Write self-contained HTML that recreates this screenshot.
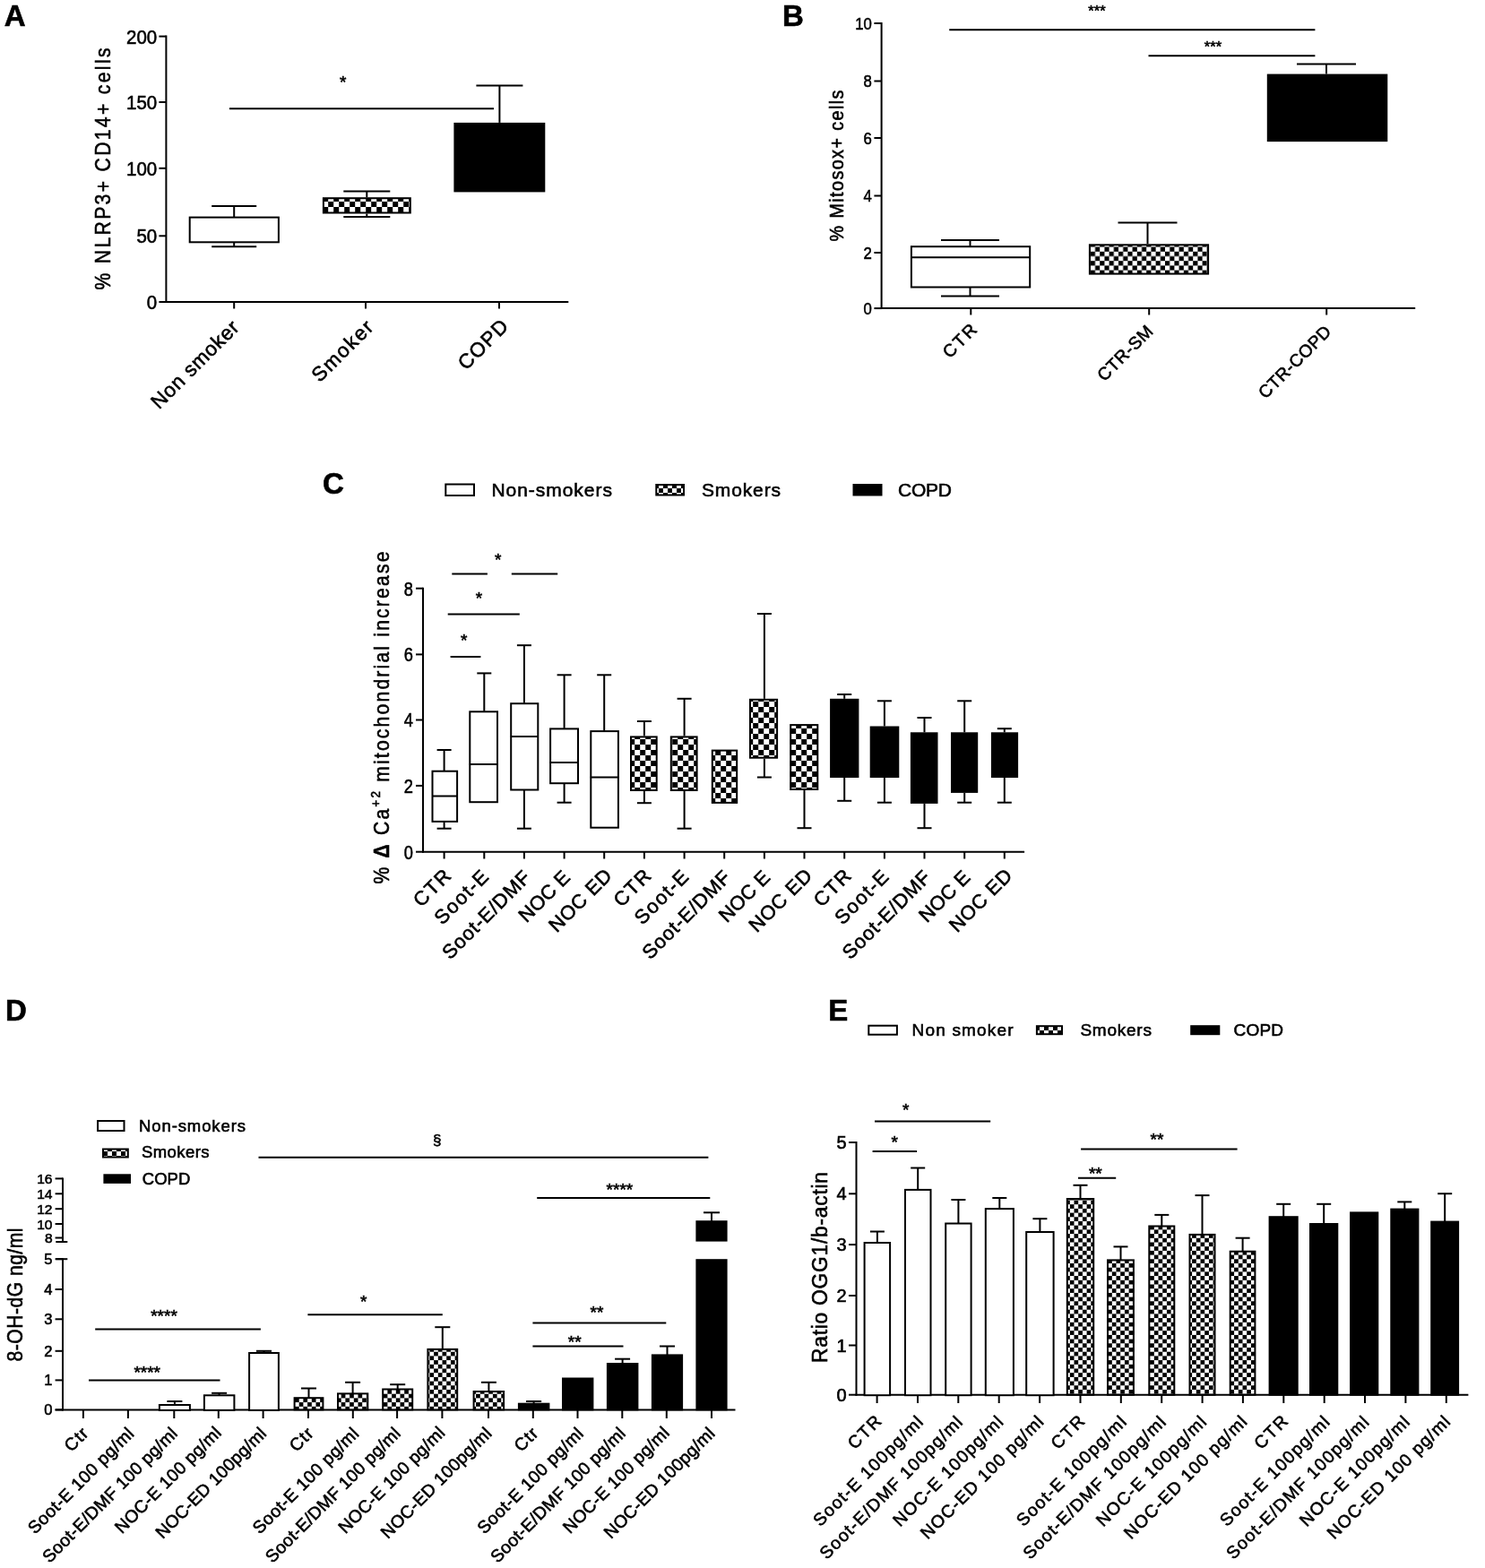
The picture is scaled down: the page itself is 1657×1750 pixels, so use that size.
<!DOCTYPE html>
<html lang="en">
<head>
<meta charset="utf-8">
<title>Figure</title>
<style>
html,body{margin:0;padding:0;background:#fff;}
body{width:1657px;height:1750px;overflow:hidden;}
svg{display:block;}
text{font-family:'Liberation Sans', sans-serif;fill:#000;stroke:#000;stroke-width:0.6px;}
</style>
</head>
<body>
<svg width="1657" height="1750" viewBox="0 0 1657 1750">
<defs>
<pattern id="chk6" x="0.2" y="3" width="12" height="12" patternUnits="userSpaceOnUse"><rect width="12" height="12" fill="#fff"/><rect width="6" height="6" fill="#000"/><rect x="6" y="6" width="6" height="6" fill="#000"/></pattern>
<pattern id="chk5" x="0" y="0" width="10.4" height="10.4" patternUnits="userSpaceOnUse"><rect width="10.4" height="10.4" fill="#fff"/><rect width="5.2" height="5.2" fill="#000"/><rect x="5.2" y="5.2" width="5.2" height="5.2" fill="#000"/></pattern>
<pattern id="chk47" x="0" y="0" width="9.4" height="9.4" patternUnits="userSpaceOnUse"><rect width="9.4" height="9.4" fill="#fff"/><rect width="4.7" height="4.7" fill="#000"/><rect x="4.7" y="4.7" width="4.7" height="4.7" fill="#000"/></pattern>
<pattern id="chkL" x="0" y="0" width="10" height="10" patternUnits="userSpaceOnUse"><rect width="10" height="10" fill="#fff"/><rect width="5" height="5" fill="#000"/><rect x="5" y="5" width="5" height="5" fill="#000"/></pattern>
</defs>
<rect x="0" y="0" width="1657" height="1750" fill="#fff"/>
<text x="4.7" y="28.6" font-size="33" text-anchor="start" font-weight="bold">A</text>
<text x="873.0" y="28.6" font-size="33" text-anchor="start" font-weight="bold">B</text>
<text x="360.1" y="550.6" font-size="33" text-anchor="start" font-weight="bold">C</text>
<text x="6.0" y="1138.5" font-size="33" text-anchor="start" font-weight="bold">D</text>
<text x="924.2" y="1138.5" font-size="33" text-anchor="start" font-weight="bold">E</text>
<line x1="185.4" y1="39.6" x2="185.4" y2="338.0" stroke="#000" stroke-width="2" stroke-linecap="butt"/>
<line x1="184.4" y1="337.0" x2="634.3" y2="337.0" stroke="#000" stroke-width="2" stroke-linecap="butt"/>
<line x1="177.4" y1="40.6" x2="185.4" y2="40.6" stroke="#000" stroke-width="2" stroke-linecap="butt"/>
<text x="0" y="0" font-size="22" text-anchor="end" transform="translate(175.2 48.5) rotate(0) scale(0.93 1)">200</text>
<line x1="177.4" y1="114.0" x2="185.4" y2="114.0" stroke="#000" stroke-width="2" stroke-linecap="butt"/>
<text x="0" y="0" font-size="22" text-anchor="end" transform="translate(175.2 121.9) rotate(0) scale(0.93 1)">150</text>
<line x1="177.4" y1="187.8" x2="185.4" y2="187.8" stroke="#000" stroke-width="2" stroke-linecap="butt"/>
<text x="0" y="0" font-size="22" text-anchor="end" transform="translate(175.2 195.7) rotate(0) scale(0.93 1)">100</text>
<line x1="177.4" y1="263.3" x2="185.4" y2="263.3" stroke="#000" stroke-width="2" stroke-linecap="butt"/>
<text x="0" y="0" font-size="22" text-anchor="end" transform="translate(175.2 271.2) rotate(0) scale(0.93 1)">50</text>
<line x1="177.4" y1="337.0" x2="185.4" y2="337.0" stroke="#000" stroke-width="2" stroke-linecap="butt"/>
<text x="0" y="0" font-size="22" text-anchor="end" transform="translate(175.2 344.9) rotate(0) scale(0.93 1)">0</text>
<line x1="261.2" y1="337.0" x2="261.2" y2="344.5" stroke="#000" stroke-width="2" stroke-linecap="butt"/>
<line x1="408.0" y1="337.0" x2="408.0" y2="344.5" stroke="#000" stroke-width="2" stroke-linecap="butt"/>
<line x1="557.0" y1="337.0" x2="557.0" y2="344.5" stroke="#000" stroke-width="2" stroke-linecap="butt"/>
<text x="0" y="0" font-size="23.5" text-anchor="middle" transform="translate(123.0 188.5) rotate(-90) scale(0.9 1)" textLength="300.0" lengthAdjust="spacing">% NLRP3+ CD14+ cells</text>
<line x1="261.2" y1="230.0" x2="261.2" y2="242.1" stroke="#000" stroke-width="2" stroke-linecap="butt"/>
<line x1="236.2" y1="230.0" x2="286.2" y2="230.0" stroke="#000" stroke-width="2" stroke-linecap="butt"/>
<line x1="261.2" y1="270.8" x2="261.2" y2="275.2" stroke="#000" stroke-width="2" stroke-linecap="butt"/>
<line x1="236.2" y1="275.2" x2="286.2" y2="275.2" stroke="#000" stroke-width="2" stroke-linecap="butt"/>
<rect x="211.7" y="242.6" width="99.2" height="27.7" fill="#fff" stroke="#000" stroke-width="2"/>
<line x1="409.3" y1="213.6" x2="409.3" y2="220.2" stroke="#000" stroke-width="2" stroke-linecap="butt"/>
<line x1="383.3" y1="213.6" x2="435.3" y2="213.6" stroke="#000" stroke-width="2" stroke-linecap="butt"/>
<line x1="409.3" y1="238.5" x2="409.3" y2="241.9" stroke="#000" stroke-width="2" stroke-linecap="butt"/>
<line x1="383.3" y1="241.9" x2="435.3" y2="241.9" stroke="#000" stroke-width="2" stroke-linecap="butt"/>
<rect x="360.9" y="221.2" width="96.9" height="16.3" fill="url(#chk6)" stroke="#000" stroke-width="2"/>
<line x1="557.4" y1="95.4" x2="557.4" y2="136.9" stroke="#000" stroke-width="2" stroke-linecap="butt"/>
<line x1="531.4" y1="95.4" x2="583.4" y2="95.4" stroke="#000" stroke-width="2" stroke-linecap="butt"/>
<rect x="507.4" y="137.9" width="99.9" height="75.5" fill="#000" stroke="#000" stroke-width="2"/>
<line x1="255.9" y1="121.2" x2="551.0" y2="121.2" stroke="#000" stroke-width="2" stroke-linecap="butt"/>
<text x="382.6" y="97.9" font-size="19" text-anchor="middle">*</text>
<text x="268.0" y="367.0" font-size="22.5" text-anchor="end" transform="rotate(-45 268.0 367.0)" textLength="127.8" lengthAdjust="spacing">Non smoker</text>
<text x="417.8" y="366.6" font-size="22.5" text-anchor="end" transform="rotate(-45 417.8 366.6)" textLength="86.3" lengthAdjust="spacing">Smoker</text>
<text x="568.5" y="365.5" font-size="22.5" text-anchor="end" transform="rotate(-45 568.5 365.5)" textLength="68.6" lengthAdjust="spacing">COPD</text>
<line x1="983.6" y1="25.0" x2="983.6" y2="345.1" stroke="#000" stroke-width="2" stroke-linecap="butt"/>
<line x1="982.6" y1="344.1" x2="1579.2" y2="344.1" stroke="#000" stroke-width="2" stroke-linecap="butt"/>
<line x1="975.4" y1="26.0" x2="983.6" y2="26.0" stroke="#000" stroke-width="2" stroke-linecap="butt"/>
<text x="0" y="0" font-size="19" text-anchor="end" transform="translate(972.8 32.8) rotate(0) scale(0.88 1)">10</text>
<line x1="975.4" y1="90.5" x2="983.6" y2="90.5" stroke="#000" stroke-width="2" stroke-linecap="butt"/>
<text x="0" y="0" font-size="19" text-anchor="end" transform="translate(972.8 97.3) rotate(0) scale(0.88 1)">8</text>
<line x1="975.4" y1="154.0" x2="983.6" y2="154.0" stroke="#000" stroke-width="2" stroke-linecap="butt"/>
<text x="0" y="0" font-size="19" text-anchor="end" transform="translate(972.8 160.8) rotate(0) scale(0.88 1)">6</text>
<line x1="975.4" y1="218.5" x2="983.6" y2="218.5" stroke="#000" stroke-width="2" stroke-linecap="butt"/>
<text x="0" y="0" font-size="19" text-anchor="end" transform="translate(972.8 225.3) rotate(0) scale(0.88 1)">4</text>
<line x1="975.4" y1="282.0" x2="983.6" y2="282.0" stroke="#000" stroke-width="2" stroke-linecap="butt"/>
<text x="0" y="0" font-size="19" text-anchor="end" transform="translate(972.8 288.8) rotate(0) scale(0.88 1)">2</text>
<line x1="975.4" y1="344.1" x2="983.6" y2="344.1" stroke="#000" stroke-width="2" stroke-linecap="butt"/>
<text x="0" y="0" font-size="19" text-anchor="end" transform="translate(972.8 350.9) rotate(0) scale(0.88 1)">0</text>
<line x1="1083.3" y1="344.1" x2="1083.3" y2="351.5" stroke="#000" stroke-width="2" stroke-linecap="butt"/>
<line x1="1282.2" y1="344.1" x2="1282.2" y2="351.5" stroke="#000" stroke-width="2" stroke-linecap="butt"/>
<line x1="1480.2" y1="344.1" x2="1480.2" y2="351.5" stroke="#000" stroke-width="2" stroke-linecap="butt"/>
<text x="0" y="0" font-size="21.5" text-anchor="middle" transform="translate(941.0 185.0) rotate(-90) scale(0.92 1)" textLength="183.7" lengthAdjust="spacing">% Mitosox+ cells</text>
<line x1="1082.5" y1="268.0" x2="1082.5" y2="274.7" stroke="#000" stroke-width="2" stroke-linecap="butt"/>
<line x1="1050.0" y1="268.0" x2="1115.0" y2="268.0" stroke="#000" stroke-width="2" stroke-linecap="butt"/>
<line x1="1082.5" y1="321.0" x2="1082.5" y2="330.5" stroke="#000" stroke-width="2" stroke-linecap="butt"/>
<line x1="1050.0" y1="330.5" x2="1115.0" y2="330.5" stroke="#000" stroke-width="2" stroke-linecap="butt"/>
<rect x="1016.9" y="275.2" width="132.3" height="45.3" fill="#fff" stroke="#000" stroke-width="2"/>
<line x1="1016.4" y1="287.2" x2="1149.7" y2="287.2" stroke="#000" stroke-width="2" stroke-linecap="butt"/>
<line x1="1280.5" y1="248.6" x2="1280.5" y2="272.3" stroke="#000" stroke-width="2" stroke-linecap="butt"/>
<line x1="1247.5" y1="248.6" x2="1313.5" y2="248.6" stroke="#000" stroke-width="2" stroke-linecap="butt"/>
<rect x="1215.9" y="273.3" width="132.2" height="32.3" fill="url(#chk5)" stroke="#000" stroke-width="2"/>
<line x1="1480.0" y1="71.5" x2="1480.0" y2="82.6" stroke="#000" stroke-width="2" stroke-linecap="butt"/>
<line x1="1447.0" y1="71.5" x2="1513.0" y2="71.5" stroke="#000" stroke-width="2" stroke-linecap="butt"/>
<rect x="1414.8" y="83.6" width="132.5" height="73.5" fill="#000" stroke="#000" stroke-width="2"/>
<line x1="1059.2" y1="33.3" x2="1467.4" y2="33.3" stroke="#000" stroke-width="2" stroke-linecap="butt"/>
<line x1="1281.5" y1="62.3" x2="1467.4" y2="62.3" stroke="#000" stroke-width="2" stroke-linecap="butt"/>
<text x="1224.0" y="17.8" font-size="16.5" text-anchor="middle">***</text>
<text x="1353.5" y="57.6" font-size="16.5" text-anchor="middle">***</text>
<text x="1091.2" y="369.3" font-size="19.5" text-anchor="end" transform="rotate(-45 1091.2 369.3)" textLength="44.5" lengthAdjust="spacing">CTR</text>
<text x="1287.8" y="370.9" font-size="19.5" text-anchor="end" transform="rotate(-45 1287.8 370.9)" textLength="78.7" lengthAdjust="spacing">CTR-SM</text>
<text x="1486.6" y="371.4" font-size="19.5" text-anchor="end" transform="rotate(-45 1486.6 371.4)" textLength="105.5" lengthAdjust="spacing">CTR-COPD</text>
<line x1="472.0" y1="655.7" x2="472.0" y2="951.7" stroke="#000" stroke-width="2" stroke-linecap="butt"/>
<line x1="471.0" y1="950.7" x2="1143.1" y2="950.7" stroke="#000" stroke-width="2" stroke-linecap="butt"/>
<line x1="464.0" y1="656.7" x2="472.0" y2="656.7" stroke="#000" stroke-width="2" stroke-linecap="butt"/>
<text x="0" y="0" font-size="21.5" text-anchor="end" transform="translate(461.0 664.5) rotate(0) scale(0.85 1)">8</text>
<line x1="464.0" y1="730.4" x2="472.0" y2="730.4" stroke="#000" stroke-width="2" stroke-linecap="butt"/>
<text x="0" y="0" font-size="21.5" text-anchor="end" transform="translate(461.0 738.2) rotate(0) scale(0.85 1)">6</text>
<line x1="464.0" y1="803.5" x2="472.0" y2="803.5" stroke="#000" stroke-width="2" stroke-linecap="butt"/>
<text x="0" y="0" font-size="21.5" text-anchor="end" transform="translate(461.0 811.3) rotate(0) scale(0.85 1)">4</text>
<line x1="464.0" y1="876.9" x2="472.0" y2="876.9" stroke="#000" stroke-width="2" stroke-linecap="butt"/>
<text x="0" y="0" font-size="21.5" text-anchor="end" transform="translate(461.0 884.7) rotate(0) scale(0.85 1)">2</text>
<line x1="464.0" y1="950.7" x2="472.0" y2="950.7" stroke="#000" stroke-width="2" stroke-linecap="butt"/>
<text x="0" y="0" font-size="21.5" text-anchor="end" transform="translate(461.0 958.5) rotate(0) scale(0.85 1)">0</text>
<line x1="495.6" y1="950.7" x2="495.6" y2="958.5" stroke="#000" stroke-width="2" stroke-linecap="butt"/>
<line x1="540.3" y1="950.7" x2="540.3" y2="958.5" stroke="#000" stroke-width="2" stroke-linecap="butt"/>
<line x1="584.9" y1="950.7" x2="584.9" y2="958.5" stroke="#000" stroke-width="2" stroke-linecap="butt"/>
<line x1="629.6" y1="950.7" x2="629.6" y2="958.5" stroke="#000" stroke-width="2" stroke-linecap="butt"/>
<line x1="674.2" y1="950.7" x2="674.2" y2="958.5" stroke="#000" stroke-width="2" stroke-linecap="butt"/>
<line x1="718.9" y1="950.7" x2="718.9" y2="958.5" stroke="#000" stroke-width="2" stroke-linecap="butt"/>
<line x1="763.6" y1="950.7" x2="763.6" y2="958.5" stroke="#000" stroke-width="2" stroke-linecap="butt"/>
<line x1="808.2" y1="950.7" x2="808.2" y2="958.5" stroke="#000" stroke-width="2" stroke-linecap="butt"/>
<line x1="852.9" y1="950.7" x2="852.9" y2="958.5" stroke="#000" stroke-width="2" stroke-linecap="butt"/>
<line x1="897.5" y1="950.7" x2="897.5" y2="958.5" stroke="#000" stroke-width="2" stroke-linecap="butt"/>
<line x1="942.2" y1="950.7" x2="942.2" y2="958.5" stroke="#000" stroke-width="2" stroke-linecap="butt"/>
<line x1="986.9" y1="950.7" x2="986.9" y2="958.5" stroke="#000" stroke-width="2" stroke-linecap="butt"/>
<line x1="1031.5" y1="950.7" x2="1031.5" y2="958.5" stroke="#000" stroke-width="2" stroke-linecap="butt"/>
<line x1="1076.2" y1="950.7" x2="1076.2" y2="958.5" stroke="#000" stroke-width="2" stroke-linecap="butt"/>
<line x1="1120.8" y1="950.7" x2="1120.8" y2="958.5" stroke="#000" stroke-width="2" stroke-linecap="butt"/>
<text x="0" y="0" font-size="23.5" text-anchor="middle" transform="translate(434.0 801.0) rotate(-90) scale(0.9 1)" textLength="412.2" lengthAdjust="spacing">% <tspan font-weight="bold">Δ</tspan> Ca<tspan font-size="15" dy="-10.5">+2</tspan><tspan dy="10.5"> mitochondrial increase</tspan></text>
<rect x="497.3" y="540.5" width="31.7" height="12.5" fill="#fff" stroke="#000" stroke-width="2"/>
<text x="548.4" y="554.0" font-size="21" text-anchor="start" textLength="134.5" lengthAdjust="spacing">Non-smokers</text>
<rect x="732.3" y="541.0" width="30.7" height="11.5" fill="url(#chkL)" stroke="#000" stroke-width="2"/>
<text x="783.0" y="554.0" font-size="21" text-anchor="start" textLength="88.0" lengthAdjust="spacing">Smokers</text>
<rect x="952.5" y="541.0" width="31.0" height="11.5" fill="#000" stroke="#000" stroke-width="2"/>
<text x="1002.0" y="554.0" font-size="21" text-anchor="start" textLength="60.0" lengthAdjust="spacing">COPD</text>
<line x1="495.6" y1="837.0" x2="495.6" y2="860.2" stroke="#000" stroke-width="2" stroke-linecap="butt"/>
<line x1="487.6" y1="837.0" x2="503.6" y2="837.0" stroke="#000" stroke-width="2" stroke-linecap="butt"/>
<line x1="495.6" y1="917.4" x2="495.6" y2="924.7" stroke="#000" stroke-width="2" stroke-linecap="butt"/>
<line x1="487.6" y1="924.7" x2="503.6" y2="924.7" stroke="#000" stroke-width="2" stroke-linecap="butt"/>
<rect x="482.5" y="860.7" width="27.6" height="56.2" fill="#fff" stroke="#000" stroke-width="2"/>
<line x1="482.0" y1="888.5" x2="510.6" y2="888.5" stroke="#000" stroke-width="2" stroke-linecap="butt"/>
<line x1="540.3" y1="751.4" x2="540.3" y2="793.8" stroke="#000" stroke-width="2" stroke-linecap="butt"/>
<line x1="532.3" y1="751.4" x2="548.3" y2="751.4" stroke="#000" stroke-width="2" stroke-linecap="butt"/>
<rect x="524.3" y="794.3" width="30.7" height="100.9" fill="#fff" stroke="#000" stroke-width="2"/>
<line x1="523.8" y1="853.0" x2="555.5" y2="853.0" stroke="#000" stroke-width="2" stroke-linecap="butt"/>
<line x1="584.9" y1="720.2" x2="584.9" y2="784.7" stroke="#000" stroke-width="2" stroke-linecap="butt"/>
<line x1="576.9" y1="720.2" x2="592.9" y2="720.2" stroke="#000" stroke-width="2" stroke-linecap="butt"/>
<line x1="584.9" y1="882.0" x2="584.9" y2="924.7" stroke="#000" stroke-width="2" stroke-linecap="butt"/>
<line x1="576.9" y1="924.7" x2="592.9" y2="924.7" stroke="#000" stroke-width="2" stroke-linecap="butt"/>
<rect x="570.2" y="785.2" width="30.1" height="96.3" fill="#fff" stroke="#000" stroke-width="2"/>
<line x1="569.7" y1="822.0" x2="600.8" y2="822.0" stroke="#000" stroke-width="2" stroke-linecap="butt"/>
<line x1="629.6" y1="753.3" x2="629.6" y2="812.9" stroke="#000" stroke-width="2" stroke-linecap="butt"/>
<line x1="621.6" y1="753.3" x2="637.6" y2="753.3" stroke="#000" stroke-width="2" stroke-linecap="butt"/>
<line x1="629.6" y1="874.7" x2="629.6" y2="895.7" stroke="#000" stroke-width="2" stroke-linecap="butt"/>
<line x1="621.6" y1="895.7" x2="637.6" y2="895.7" stroke="#000" stroke-width="2" stroke-linecap="butt"/>
<rect x="614.1" y="813.4" width="30.9" height="60.8" fill="#fff" stroke="#000" stroke-width="2"/>
<line x1="613.6" y1="851.0" x2="645.5" y2="851.0" stroke="#000" stroke-width="2" stroke-linecap="butt"/>
<line x1="674.2" y1="753.3" x2="674.2" y2="815.6" stroke="#000" stroke-width="2" stroke-linecap="butt"/>
<line x1="666.2" y1="753.3" x2="682.2" y2="753.3" stroke="#000" stroke-width="2" stroke-linecap="butt"/>
<rect x="659.3" y="816.1" width="30.6" height="107.6" fill="#fff" stroke="#000" stroke-width="2"/>
<line x1="658.8" y1="867.5" x2="690.4" y2="867.5" stroke="#000" stroke-width="2" stroke-linecap="butt"/>
<line x1="718.9" y1="805.0" x2="718.9" y2="821.4" stroke="#000" stroke-width="2" stroke-linecap="butt"/>
<line x1="710.9" y1="805.0" x2="726.9" y2="805.0" stroke="#000" stroke-width="2" stroke-linecap="butt"/>
<line x1="718.9" y1="883.0" x2="718.9" y2="896.2" stroke="#000" stroke-width="2" stroke-linecap="butt"/>
<line x1="710.9" y1="896.2" x2="726.9" y2="896.2" stroke="#000" stroke-width="2" stroke-linecap="butt"/>
<rect x="704.0" y="822.4" width="28.7" height="59.6" fill="url(#chk6)" stroke="#000" stroke-width="2"/>
<line x1="763.6" y1="779.8" x2="763.6" y2="821.4" stroke="#000" stroke-width="2" stroke-linecap="butt"/>
<line x1="755.6" y1="779.8" x2="771.6" y2="779.8" stroke="#000" stroke-width="2" stroke-linecap="butt"/>
<line x1="763.6" y1="883.0" x2="763.6" y2="924.7" stroke="#000" stroke-width="2" stroke-linecap="butt"/>
<line x1="755.6" y1="924.7" x2="771.6" y2="924.7" stroke="#000" stroke-width="2" stroke-linecap="butt"/>
<rect x="748.8" y="822.4" width="28.8" height="59.6" fill="url(#chk6)" stroke="#000" stroke-width="2"/>
<rect x="794.8" y="837.6" width="27.4" height="58.3" fill="url(#chk6)" stroke="#000" stroke-width="2"/>
<line x1="852.9" y1="685.0" x2="852.9" y2="779.8" stroke="#000" stroke-width="2" stroke-linecap="butt"/>
<line x1="844.9" y1="685.0" x2="860.9" y2="685.0" stroke="#000" stroke-width="2" stroke-linecap="butt"/>
<line x1="852.9" y1="846.7" x2="852.9" y2="867.5" stroke="#000" stroke-width="2" stroke-linecap="butt"/>
<line x1="844.9" y1="867.5" x2="860.9" y2="867.5" stroke="#000" stroke-width="2" stroke-linecap="butt"/>
<rect x="837.0" y="780.8" width="30.1" height="64.9" fill="url(#chk6)" stroke="#000" stroke-width="2"/>
<line x1="897.5" y1="882.0" x2="897.5" y2="924.2" stroke="#000" stroke-width="2" stroke-linecap="butt"/>
<line x1="889.5" y1="924.2" x2="905.5" y2="924.2" stroke="#000" stroke-width="2" stroke-linecap="butt"/>
<rect x="882.2" y="809.1" width="30.1" height="71.9" fill="url(#chk6)" stroke="#000" stroke-width="2"/>
<line x1="942.2" y1="775.0" x2="942.2" y2="779.8" stroke="#000" stroke-width="2" stroke-linecap="butt"/>
<line x1="934.2" y1="775.0" x2="950.2" y2="775.0" stroke="#000" stroke-width="2" stroke-linecap="butt"/>
<line x1="942.2" y1="868.0" x2="942.2" y2="893.8" stroke="#000" stroke-width="2" stroke-linecap="butt"/>
<line x1="934.2" y1="893.8" x2="950.2" y2="893.8" stroke="#000" stroke-width="2" stroke-linecap="butt"/>
<rect x="927.1" y="780.8" width="30.3" height="86.2" fill="#000" stroke="#000" stroke-width="2"/>
<line x1="986.9" y1="782.3" x2="986.9" y2="810.5" stroke="#000" stroke-width="2" stroke-linecap="butt"/>
<line x1="978.9" y1="782.3" x2="994.9" y2="782.3" stroke="#000" stroke-width="2" stroke-linecap="butt"/>
<line x1="986.9" y1="868.0" x2="986.9" y2="895.7" stroke="#000" stroke-width="2" stroke-linecap="butt"/>
<line x1="978.9" y1="895.7" x2="994.9" y2="895.7" stroke="#000" stroke-width="2" stroke-linecap="butt"/>
<rect x="971.7" y="811.5" width="30.6" height="55.5" fill="#000" stroke="#000" stroke-width="2"/>
<line x1="1031.5" y1="801.0" x2="1031.5" y2="817.3" stroke="#000" stroke-width="2" stroke-linecap="butt"/>
<line x1="1023.5" y1="801.0" x2="1039.5" y2="801.0" stroke="#000" stroke-width="2" stroke-linecap="butt"/>
<line x1="1031.5" y1="896.9" x2="1031.5" y2="924.2" stroke="#000" stroke-width="2" stroke-linecap="butt"/>
<line x1="1023.5" y1="924.2" x2="1039.5" y2="924.2" stroke="#000" stroke-width="2" stroke-linecap="butt"/>
<rect x="1016.9" y="818.3" width="28.6" height="77.6" fill="#000" stroke="#000" stroke-width="2"/>
<line x1="1076.2" y1="782.3" x2="1076.2" y2="817.3" stroke="#000" stroke-width="2" stroke-linecap="butt"/>
<line x1="1068.2" y1="782.3" x2="1084.2" y2="782.3" stroke="#000" stroke-width="2" stroke-linecap="butt"/>
<line x1="1076.2" y1="884.9" x2="1076.2" y2="895.7" stroke="#000" stroke-width="2" stroke-linecap="butt"/>
<line x1="1068.2" y1="895.7" x2="1084.2" y2="895.7" stroke="#000" stroke-width="2" stroke-linecap="butt"/>
<rect x="1062.0" y="818.3" width="28.2" height="65.6" fill="#000" stroke="#000" stroke-width="2"/>
<line x1="1120.8" y1="813.2" x2="1120.8" y2="817.3" stroke="#000" stroke-width="2" stroke-linecap="butt"/>
<line x1="1112.8" y1="813.2" x2="1128.8" y2="813.2" stroke="#000" stroke-width="2" stroke-linecap="butt"/>
<line x1="1120.8" y1="868.0" x2="1120.8" y2="895.7" stroke="#000" stroke-width="2" stroke-linecap="butt"/>
<line x1="1112.8" y1="895.7" x2="1128.8" y2="895.7" stroke="#000" stroke-width="2" stroke-linecap="butt"/>
<rect x="1106.9" y="818.3" width="28.2" height="48.7" fill="#000" stroke="#000" stroke-width="2"/>
<line x1="502.6" y1="732.9" x2="536.4" y2="732.9" stroke="#000" stroke-width="2" stroke-linecap="butt"/>
<text x="517.8" y="721.3" font-size="19" text-anchor="middle">*</text>
<line x1="499.7" y1="685.6" x2="579.8" y2="685.6" stroke="#000" stroke-width="2" stroke-linecap="butt"/>
<text x="534.5" y="673.5" font-size="19" text-anchor="middle">*</text>
<line x1="504.3" y1="640.4" x2="543.9" y2="640.4" stroke="#000" stroke-width="2" stroke-linecap="butt"/>
<line x1="570.8" y1="640.4" x2="622.2" y2="640.4" stroke="#000" stroke-width="2" stroke-linecap="butt"/>
<text x="555.7" y="630.9" font-size="19" text-anchor="middle">*</text>
<text x="504.4" y="978.9" font-size="22" text-anchor="end" transform="rotate(-45 504.4 978.9)" textLength="48.5" lengthAdjust="spacing">CTR</text>
<text x="546.4" y="980.1" font-size="22" text-anchor="end" transform="rotate(-45 546.4 980.1)" textLength="74.7" lengthAdjust="spacing">Soot-E</text>
<text x="593.2" y="980.8" font-size="22" text-anchor="end" transform="rotate(-45 593.2 980.8)" textLength="128.6" lengthAdjust="spacing">Soot-E/DMF</text>
<text x="637.3" y="980.7" font-size="22" text-anchor="end" transform="rotate(-45 637.3 980.7)" textLength="70.3" lengthAdjust="spacing">NOC E</text>
<text x="684.1" y="978.7" font-size="22" text-anchor="end" transform="rotate(-45 684.1 978.7)" textLength="88.8" lengthAdjust="spacing">NOC ED</text>
<text x="727.7" y="978.9" font-size="22" text-anchor="end" transform="rotate(-45 727.7 978.9)" textLength="48.5" lengthAdjust="spacing">CTR</text>
<text x="769.7" y="980.1" font-size="22" text-anchor="end" transform="rotate(-45 769.7 980.1)" textLength="74.7" lengthAdjust="spacing">Soot-E</text>
<text x="816.5" y="980.8" font-size="22" text-anchor="end" transform="rotate(-45 816.5 980.8)" textLength="128.6" lengthAdjust="spacing">Soot-E/DMF</text>
<text x="860.6" y="980.7" font-size="22" text-anchor="end" transform="rotate(-45 860.6 980.7)" textLength="70.3" lengthAdjust="spacing">NOC E</text>
<text x="907.4" y="978.7" font-size="22" text-anchor="end" transform="rotate(-45 907.4 978.7)" textLength="88.8" lengthAdjust="spacing">NOC ED</text>
<text x="951.0" y="978.9" font-size="22" text-anchor="end" transform="rotate(-45 951.0 978.9)" textLength="48.5" lengthAdjust="spacing">CTR</text>
<text x="993.0" y="980.1" font-size="22" text-anchor="end" transform="rotate(-45 993.0 980.1)" textLength="74.7" lengthAdjust="spacing">Soot-E</text>
<text x="1039.8" y="980.8" font-size="22" text-anchor="end" transform="rotate(-45 1039.8 980.8)" textLength="128.6" lengthAdjust="spacing">Soot-E/DMF</text>
<text x="1083.9" y="980.7" font-size="22" text-anchor="end" transform="rotate(-45 1083.9 980.7)" textLength="70.3" lengthAdjust="spacing">NOC E</text>
<text x="1130.7" y="978.7" font-size="22" text-anchor="end" transform="rotate(-45 1130.7 978.7)" textLength="88.8" lengthAdjust="spacing">NOC ED</text>
<line x1="70.0" y1="1404.2" x2="70.0" y2="1574.4" stroke="#000" stroke-width="2" stroke-linecap="butt"/>
<line x1="70.0" y1="1314.4" x2="70.0" y2="1386.9" stroke="#000" stroke-width="2" stroke-linecap="butt"/>
<line x1="62.3" y1="1386.0" x2="75.3" y2="1386.0" stroke="#000" stroke-width="2" stroke-linecap="butt"/>
<line x1="62.3" y1="1405.2" x2="75.3" y2="1405.2" stroke="#000" stroke-width="2" stroke-linecap="butt"/>
<line x1="61.6" y1="1573.4" x2="820.5" y2="1573.4" stroke="#000" stroke-width="2" stroke-linecap="butt"/>
<line x1="61.6" y1="1405.2" x2="70.0" y2="1405.2" stroke="#000" stroke-width="2" stroke-linecap="butt"/>
<text x="58.5" y="1411.2" font-size="16.5" text-anchor="end">5</text>
<line x1="61.6" y1="1439.0" x2="70.0" y2="1439.0" stroke="#000" stroke-width="2" stroke-linecap="butt"/>
<text x="58.5" y="1445.0" font-size="16.5" text-anchor="end">4</text>
<line x1="61.6" y1="1472.3" x2="70.0" y2="1472.3" stroke="#000" stroke-width="2" stroke-linecap="butt"/>
<text x="58.5" y="1478.3" font-size="16.5" text-anchor="end">3</text>
<line x1="61.6" y1="1507.8" x2="70.0" y2="1507.8" stroke="#000" stroke-width="2" stroke-linecap="butt"/>
<text x="58.5" y="1513.8" font-size="16.5" text-anchor="end">2</text>
<line x1="61.6" y1="1540.4" x2="70.0" y2="1540.4" stroke="#000" stroke-width="2" stroke-linecap="butt"/>
<text x="58.5" y="1546.4" font-size="16.5" text-anchor="end">1</text>
<line x1="61.6" y1="1573.4" x2="70.0" y2="1573.4" stroke="#000" stroke-width="2" stroke-linecap="butt"/>
<text x="58.5" y="1579.4" font-size="16.5" text-anchor="end">0</text>
<line x1="61.6" y1="1315.4" x2="70.0" y2="1315.4" stroke="#000" stroke-width="2" stroke-linecap="butt"/>
<text x="58.5" y="1320.9" font-size="15.5" text-anchor="end">16</text>
<line x1="61.6" y1="1332.3" x2="70.0" y2="1332.3" stroke="#000" stroke-width="2" stroke-linecap="butt"/>
<text x="58.5" y="1337.8" font-size="15.5" text-anchor="end">14</text>
<line x1="61.6" y1="1349.2" x2="70.0" y2="1349.2" stroke="#000" stroke-width="2" stroke-linecap="butt"/>
<text x="58.5" y="1354.7" font-size="15.5" text-anchor="end">12</text>
<line x1="61.6" y1="1366.0" x2="70.0" y2="1366.0" stroke="#000" stroke-width="2" stroke-linecap="butt"/>
<text x="58.5" y="1371.5" font-size="15.5" text-anchor="end">10</text>
<line x1="61.6" y1="1381.5" x2="70.0" y2="1381.5" stroke="#000" stroke-width="2" stroke-linecap="butt"/>
<text x="58.5" y="1387.0" font-size="15.5" text-anchor="end">8</text>
<line x1="92.9" y1="1573.4" x2="92.9" y2="1583.0" stroke="#000" stroke-width="2" stroke-linecap="butt"/>
<line x1="142.9" y1="1573.4" x2="142.9" y2="1583.0" stroke="#000" stroke-width="2" stroke-linecap="butt"/>
<line x1="194.3" y1="1573.4" x2="194.3" y2="1583.0" stroke="#000" stroke-width="2" stroke-linecap="butt"/>
<line x1="243.8" y1="1573.4" x2="243.8" y2="1583.0" stroke="#000" stroke-width="2" stroke-linecap="butt"/>
<line x1="293.6" y1="1573.4" x2="293.6" y2="1583.0" stroke="#000" stroke-width="2" stroke-linecap="butt"/>
<line x1="344.0" y1="1573.4" x2="344.0" y2="1583.0" stroke="#000" stroke-width="2" stroke-linecap="butt"/>
<line x1="393.8" y1="1573.4" x2="393.8" y2="1583.0" stroke="#000" stroke-width="2" stroke-linecap="butt"/>
<line x1="443.1" y1="1573.4" x2="443.1" y2="1583.0" stroke="#000" stroke-width="2" stroke-linecap="butt"/>
<line x1="493.4" y1="1573.4" x2="493.4" y2="1583.0" stroke="#000" stroke-width="2" stroke-linecap="butt"/>
<line x1="545.0" y1="1573.4" x2="545.0" y2="1583.0" stroke="#000" stroke-width="2" stroke-linecap="butt"/>
<line x1="594.8" y1="1573.4" x2="594.8" y2="1583.0" stroke="#000" stroke-width="2" stroke-linecap="butt"/>
<line x1="644.5" y1="1573.4" x2="644.5" y2="1583.0" stroke="#000" stroke-width="2" stroke-linecap="butt"/>
<line x1="694.3" y1="1573.4" x2="694.3" y2="1583.0" stroke="#000" stroke-width="2" stroke-linecap="butt"/>
<line x1="743.8" y1="1573.4" x2="743.8" y2="1583.0" stroke="#000" stroke-width="2" stroke-linecap="butt"/>
<line x1="794.0" y1="1573.4" x2="794.0" y2="1583.0" stroke="#000" stroke-width="2" stroke-linecap="butt"/>
<text x="0" y="0" font-size="23.5" text-anchor="middle" transform="translate(24.5 1445.0) rotate(-90) scale(0.9 1)" textLength="165.6" lengthAdjust="spacing">8-OH-dG ng/ml</text>
<rect x="109.1" y="1251.0" width="29.4" height="11.0" fill="#fff" stroke="#000" stroke-width="2"/>
<text x="155.0" y="1263.0" font-size="18.5" text-anchor="start" textLength="119.0" lengthAdjust="spacing">Non-smokers</text>
<rect x="115.0" y="1282.5" width="27.8" height="9.0" fill="url(#chkL)" stroke="#000" stroke-width="2"/>
<text x="158.0" y="1291.5" font-size="18.5" text-anchor="start" textLength="75.5" lengthAdjust="spacing">Smokers</text>
<rect x="116.4" y="1311.3" width="28.6" height="8.6" fill="#000" stroke="#000" stroke-width="2"/>
<text x="158.8" y="1322.0" font-size="18.5" text-anchor="start" textLength="53.5" lengthAdjust="spacing">COPD</text>
<line x1="194.9" y1="1564.0" x2="194.9" y2="1568.5" stroke="#000" stroke-width="2" stroke-linecap="butt"/>
<line x1="186.4" y1="1564.0" x2="203.4" y2="1564.0" stroke="#000" stroke-width="2" stroke-linecap="butt"/>
<rect x="177.9" y="1568.0" width="34.0" height="5.9" fill="#fff" stroke="#000" stroke-width="2"/>
<line x1="244.6" y1="1554.8" x2="244.6" y2="1557.8" stroke="#000" stroke-width="2" stroke-linecap="butt"/>
<line x1="236.1" y1="1554.8" x2="253.1" y2="1554.8" stroke="#000" stroke-width="2" stroke-linecap="butt"/>
<rect x="227.9" y="1557.3" width="33.5" height="16.6" fill="#fff" stroke="#000" stroke-width="2"/>
<line x1="294.5" y1="1507.8" x2="294.5" y2="1510.5" stroke="#000" stroke-width="2" stroke-linecap="butt"/>
<line x1="286.0" y1="1507.8" x2="303.0" y2="1507.8" stroke="#000" stroke-width="2" stroke-linecap="butt"/>
<rect x="278.1" y="1510.0" width="32.8" height="63.9" fill="#fff" stroke="#000" stroke-width="2"/>
<line x1="344.5" y1="1549.5" x2="344.5" y2="1560.2" stroke="#000" stroke-width="2" stroke-linecap="butt"/>
<line x1="336.0" y1="1549.5" x2="353.0" y2="1549.5" stroke="#000" stroke-width="2" stroke-linecap="butt"/>
<rect x="328.6" y="1560.2" width="31.8" height="13.2" fill="url(#chk47)" stroke="#000" stroke-width="2"/>
<line x1="393.6" y1="1542.8" x2="393.6" y2="1555.4" stroke="#000" stroke-width="2" stroke-linecap="butt"/>
<line x1="385.1" y1="1542.8" x2="402.1" y2="1542.8" stroke="#000" stroke-width="2" stroke-linecap="butt"/>
<rect x="377.0" y="1555.4" width="33.3" height="18.0" fill="url(#chk47)" stroke="#000" stroke-width="2"/>
<line x1="443.7" y1="1545.2" x2="443.7" y2="1550.5" stroke="#000" stroke-width="2" stroke-linecap="butt"/>
<line x1="435.2" y1="1545.2" x2="452.2" y2="1545.2" stroke="#000" stroke-width="2" stroke-linecap="butt"/>
<rect x="427.2" y="1550.5" width="33.0" height="22.9" fill="url(#chk47)" stroke="#000" stroke-width="2"/>
<line x1="493.8" y1="1481.2" x2="493.8" y2="1505.9" stroke="#000" stroke-width="2" stroke-linecap="butt"/>
<line x1="485.3" y1="1481.2" x2="502.3" y2="1481.2" stroke="#000" stroke-width="2" stroke-linecap="butt"/>
<rect x="477.4" y="1505.9" width="32.8" height="67.5" fill="url(#chk47)" stroke="#000" stroke-width="2"/>
<line x1="545.4" y1="1542.8" x2="545.4" y2="1553.0" stroke="#000" stroke-width="2" stroke-linecap="butt"/>
<line x1="536.9" y1="1542.8" x2="553.9" y2="1542.8" stroke="#000" stroke-width="2" stroke-linecap="butt"/>
<rect x="528.6" y="1553.0" width="33.5" height="20.4" fill="url(#chk47)" stroke="#000" stroke-width="2"/>
<line x1="595.6" y1="1564.0" x2="595.6" y2="1566.7" stroke="#000" stroke-width="2" stroke-linecap="butt"/>
<line x1="587.1" y1="1564.0" x2="604.1" y2="1564.0" stroke="#000" stroke-width="2" stroke-linecap="butt"/>
<rect x="578.9" y="1566.7" width="33.5" height="6.7" fill="#000" stroke="#000" stroke-width="2"/>
<rect x="628.0" y="1538.5" width="33.4" height="34.9" fill="#000" stroke="#000" stroke-width="2"/>
<line x1="694.6" y1="1516.7" x2="694.6" y2="1522.0" stroke="#000" stroke-width="2" stroke-linecap="butt"/>
<line x1="686.1" y1="1516.7" x2="703.1" y2="1516.7" stroke="#000" stroke-width="2" stroke-linecap="butt"/>
<rect x="677.9" y="1522.0" width="33.5" height="51.4" fill="#000" stroke="#000" stroke-width="2"/>
<line x1="744.5" y1="1502.5" x2="744.5" y2="1512.4" stroke="#000" stroke-width="2" stroke-linecap="butt"/>
<line x1="736.0" y1="1502.5" x2="753.0" y2="1502.5" stroke="#000" stroke-width="2" stroke-linecap="butt"/>
<rect x="727.9" y="1512.4" width="33.2" height="61.0" fill="#000" stroke="#000" stroke-width="2"/>
<rect x="777.4" y="1406.2" width="33.2" height="167.2" fill="#000" stroke="#000" stroke-width="2"/>
<line x1="794.0" y1="1353.3" x2="794.0" y2="1363.2" stroke="#000" stroke-width="2" stroke-linecap="butt"/>
<line x1="785.0" y1="1353.3" x2="803.0" y2="1353.3" stroke="#000" stroke-width="2" stroke-linecap="butt"/>
<rect x="777.4" y="1363.2" width="33.2" height="21.4" fill="#000" stroke="#000" stroke-width="2"/>
<line x1="99.0" y1="1540.4" x2="245.5" y2="1540.4" stroke="#000" stroke-width="2" stroke-linecap="butt"/>
<text x="164.2" y="1537.5" font-size="19" text-anchor="middle">****</text>
<line x1="106.2" y1="1483.6" x2="290.9" y2="1483.6" stroke="#000" stroke-width="2" stroke-linecap="butt"/>
<text x="183.0" y="1475.4" font-size="19" text-anchor="middle">****</text>
<line x1="288.5" y1="1291.7" x2="790.4" y2="1291.7" stroke="#000" stroke-width="2" stroke-linecap="butt"/>
<text x="487.8" y="1277.5" font-size="17" text-anchor="middle">§</text>
<line x1="343.4" y1="1467.2" x2="493.8" y2="1467.2" stroke="#000" stroke-width="2" stroke-linecap="butt"/>
<text x="405.7" y="1458.5" font-size="19" text-anchor="middle">*</text>
<line x1="594.4" y1="1502.5" x2="695.5" y2="1502.5" stroke="#000" stroke-width="2" stroke-linecap="butt"/>
<text x="641.2" y="1504.4" font-size="19" text-anchor="middle">**</text>
<line x1="594.4" y1="1476.4" x2="743.3" y2="1476.4" stroke="#000" stroke-width="2" stroke-linecap="butt"/>
<text x="666.0" y="1471.1" font-size="19" text-anchor="middle">**</text>
<line x1="599.2" y1="1336.9" x2="792.3" y2="1336.9" stroke="#000" stroke-width="2" stroke-linecap="butt"/>
<text x="691.4" y="1333.7" font-size="19" text-anchor="middle">****</text>
<text x="99.7" y="1601.2" font-size="19.5" text-anchor="end" transform="rotate(-45 99.7 1601.2)" textLength="28.4" lengthAdjust="spacing">Ctr</text>
<text x="150.6" y="1601.4" font-size="19.5" text-anchor="end" transform="rotate(-45 150.6 1601.4)" textLength="157.9" lengthAdjust="spacing">Soot-E 100 pg/ml</text>
<text x="199.2" y="1601.2" font-size="19.5" text-anchor="end" transform="rotate(-45 199.2 1601.2)" textLength="203.6" lengthAdjust="spacing">Soot-E/DMF 100 pg/ml</text>
<text x="248.0" y="1600.4" font-size="19.5" text-anchor="end" transform="rotate(-45 248.0 1600.4)" textLength="158.4" lengthAdjust="spacing">NOC-E 100 pg/ml</text>
<text x="298.4" y="1601.2" font-size="19.5" text-anchor="end" transform="rotate(-45 298.4 1601.2)" textLength="165.4" lengthAdjust="spacing">NOC-ED 100pg/ml</text>
<text x="350.8" y="1601.2" font-size="19.5" text-anchor="end" transform="rotate(-45 350.8 1601.2)" textLength="28.4" lengthAdjust="spacing">Ctr</text>
<text x="401.5" y="1601.4" font-size="19.5" text-anchor="end" transform="rotate(-45 401.5 1601.4)" textLength="157.9" lengthAdjust="spacing">Soot-E 100 pg/ml</text>
<text x="448.0" y="1601.2" font-size="19.5" text-anchor="end" transform="rotate(-45 448.0 1601.2)" textLength="203.6" lengthAdjust="spacing">Soot-E/DMF 100 pg/ml</text>
<text x="497.6" y="1600.4" font-size="19.5" text-anchor="end" transform="rotate(-45 497.6 1600.4)" textLength="158.4" lengthAdjust="spacing">NOC-E 100 pg/ml</text>
<text x="549.8" y="1601.2" font-size="19.5" text-anchor="end" transform="rotate(-45 549.8 1601.2)" textLength="165.4" lengthAdjust="spacing">NOC-ED 100pg/ml</text>
<text x="601.6" y="1601.2" font-size="19.5" text-anchor="end" transform="rotate(-45 601.6 1601.2)" textLength="28.4" lengthAdjust="spacing">Ctr</text>
<text x="652.2" y="1601.4" font-size="19.5" text-anchor="end" transform="rotate(-45 652.2 1601.4)" textLength="157.9" lengthAdjust="spacing">Soot-E 100 pg/ml</text>
<text x="699.2" y="1601.2" font-size="19.5" text-anchor="end" transform="rotate(-45 699.2 1601.2)" textLength="203.6" lengthAdjust="spacing">Soot-E/DMF 100 pg/ml</text>
<text x="748.0" y="1600.4" font-size="19.5" text-anchor="end" transform="rotate(-45 748.0 1600.4)" textLength="158.4" lengthAdjust="spacing">NOC-E 100 pg/ml</text>
<text x="798.8" y="1601.2" font-size="19.5" text-anchor="end" transform="rotate(-45 798.8 1601.2)" textLength="165.4" lengthAdjust="spacing">NOC-ED 100pg/ml</text>
<line x1="955.5" y1="1274.0" x2="955.5" y2="1557.7" stroke="#000" stroke-width="2" stroke-linecap="butt"/>
<line x1="954.5" y1="1556.7" x2="1638.4" y2="1556.7" stroke="#000" stroke-width="2" stroke-linecap="butt"/>
<line x1="947.0" y1="1275.0" x2="955.5" y2="1275.0" stroke="#000" stroke-width="2" stroke-linecap="butt"/>
<text x="944.5" y="1282.0" font-size="20" text-anchor="end">5</text>
<line x1="947.0" y1="1332.3" x2="955.5" y2="1332.3" stroke="#000" stroke-width="2" stroke-linecap="butt"/>
<text x="944.5" y="1339.3" font-size="20" text-anchor="end">4</text>
<line x1="947.0" y1="1389.1" x2="955.5" y2="1389.1" stroke="#000" stroke-width="2" stroke-linecap="butt"/>
<text x="944.5" y="1396.1" font-size="20" text-anchor="end">3</text>
<line x1="947.0" y1="1446.0" x2="955.5" y2="1446.0" stroke="#000" stroke-width="2" stroke-linecap="butt"/>
<text x="944.5" y="1453.0" font-size="20" text-anchor="end">2</text>
<line x1="947.0" y1="1501.5" x2="955.5" y2="1501.5" stroke="#000" stroke-width="2" stroke-linecap="butt"/>
<text x="944.5" y="1508.5" font-size="20" text-anchor="end">1</text>
<line x1="947.0" y1="1556.7" x2="955.5" y2="1556.7" stroke="#000" stroke-width="2" stroke-linecap="butt"/>
<text x="944.5" y="1563.7" font-size="20" text-anchor="end">0</text>
<line x1="978.6" y1="1556.7" x2="978.6" y2="1566.0" stroke="#000" stroke-width="2" stroke-linecap="butt"/>
<line x1="1024.0" y1="1556.7" x2="1024.0" y2="1566.0" stroke="#000" stroke-width="2" stroke-linecap="butt"/>
<line x1="1069.3" y1="1556.7" x2="1069.3" y2="1566.0" stroke="#000" stroke-width="2" stroke-linecap="butt"/>
<line x1="1114.7" y1="1556.7" x2="1114.7" y2="1566.0" stroke="#000" stroke-width="2" stroke-linecap="butt"/>
<line x1="1160.1" y1="1556.7" x2="1160.1" y2="1566.0" stroke="#000" stroke-width="2" stroke-linecap="butt"/>
<line x1="1205.5" y1="1556.7" x2="1205.5" y2="1566.0" stroke="#000" stroke-width="2" stroke-linecap="butt"/>
<line x1="1250.8" y1="1556.7" x2="1250.8" y2="1566.0" stroke="#000" stroke-width="2" stroke-linecap="butt"/>
<line x1="1296.2" y1="1556.7" x2="1296.2" y2="1566.0" stroke="#000" stroke-width="2" stroke-linecap="butt"/>
<line x1="1341.6" y1="1556.7" x2="1341.6" y2="1566.0" stroke="#000" stroke-width="2" stroke-linecap="butt"/>
<line x1="1386.9" y1="1556.7" x2="1386.9" y2="1566.0" stroke="#000" stroke-width="2" stroke-linecap="butt"/>
<line x1="1432.3" y1="1556.7" x2="1432.3" y2="1566.0" stroke="#000" stroke-width="2" stroke-linecap="butt"/>
<line x1="1477.7" y1="1556.7" x2="1477.7" y2="1566.0" stroke="#000" stroke-width="2" stroke-linecap="butt"/>
<line x1="1523.0" y1="1556.7" x2="1523.0" y2="1566.0" stroke="#000" stroke-width="2" stroke-linecap="butt"/>
<line x1="1568.4" y1="1556.7" x2="1568.4" y2="1566.0" stroke="#000" stroke-width="2" stroke-linecap="butt"/>
<line x1="1613.8" y1="1556.7" x2="1613.8" y2="1566.0" stroke="#000" stroke-width="2" stroke-linecap="butt"/>
<text x="0" y="0" font-size="24" text-anchor="middle" transform="translate(922.8 1414.5) rotate(-90) scale(0.95 1)" textLength="224.2" lengthAdjust="spacing">Ratio OGG1/b-actin</text>
<rect x="969.3" y="1144.7" width="31.6" height="10.0" fill="#fff" stroke="#000" stroke-width="2"/>
<text x="1017.6" y="1155.5" font-size="19" text-anchor="start" textLength="113.0" lengthAdjust="spacing">Non smoker</text>
<rect x="1156.9" y="1145.2" width="28.1" height="9.0" fill="url(#chkL)" stroke="#000" stroke-width="2"/>
<text x="1205.4" y="1155.5" font-size="19" text-anchor="start" textLength="79.5" lengthAdjust="spacing">Smokers</text>
<rect x="1329.2" y="1145.2" width="31.1" height="9.0" fill="#000" stroke="#000" stroke-width="2"/>
<text x="1376.5" y="1155.5" font-size="19" text-anchor="start" textLength="55.5" lengthAdjust="spacing">COPD</text>
<line x1="978.9" y1="1374.5" x2="978.9" y2="1387.5" stroke="#000" stroke-width="2" stroke-linecap="butt"/>
<line x1="970.9" y1="1374.5" x2="986.9" y2="1374.5" stroke="#000" stroke-width="2" stroke-linecap="butt"/>
<rect x="964.6" y="1387.0" width="28.5" height="170.2" fill="#fff" stroke="#000" stroke-width="2"/>
<line x1="1024.2" y1="1303.5" x2="1024.2" y2="1328.4" stroke="#000" stroke-width="2" stroke-linecap="butt"/>
<line x1="1016.2" y1="1303.5" x2="1032.2" y2="1303.5" stroke="#000" stroke-width="2" stroke-linecap="butt"/>
<rect x="1010.0" y="1327.9" width="28.5" height="229.3" fill="#fff" stroke="#000" stroke-width="2"/>
<line x1="1069.4" y1="1339.0" x2="1069.4" y2="1366.0" stroke="#000" stroke-width="2" stroke-linecap="butt"/>
<line x1="1061.4" y1="1339.0" x2="1077.4" y2="1339.0" stroke="#000" stroke-width="2" stroke-linecap="butt"/>
<rect x="1055.2" y="1365.5" width="28.4" height="191.7" fill="#fff" stroke="#000" stroke-width="2"/>
<line x1="1115.3" y1="1337.0" x2="1115.3" y2="1349.6" stroke="#000" stroke-width="2" stroke-linecap="butt"/>
<line x1="1107.3" y1="1337.0" x2="1123.3" y2="1337.0" stroke="#000" stroke-width="2" stroke-linecap="butt"/>
<rect x="1099.8" y="1349.1" width="31.1" height="208.1" fill="#fff" stroke="#000" stroke-width="2"/>
<line x1="1160.4" y1="1360.2" x2="1160.4" y2="1375.5" stroke="#000" stroke-width="2" stroke-linecap="butt"/>
<line x1="1152.4" y1="1360.2" x2="1168.4" y2="1360.2" stroke="#000" stroke-width="2" stroke-linecap="butt"/>
<rect x="1145.2" y="1375.0" width="30.4" height="182.2" fill="#fff" stroke="#000" stroke-width="2"/>
<line x1="1205.5" y1="1322.8" x2="1205.5" y2="1338.0" stroke="#000" stroke-width="2" stroke-linecap="butt"/>
<line x1="1197.5" y1="1322.8" x2="1213.5" y2="1322.8" stroke="#000" stroke-width="2" stroke-linecap="butt"/>
<rect x="1190.8" y="1338.0" width="29.4" height="218.7" fill="url(#chk47)" stroke="#000" stroke-width="2"/>
<line x1="1250.5" y1="1391.4" x2="1250.5" y2="1406.4" stroke="#000" stroke-width="2" stroke-linecap="butt"/>
<line x1="1242.5" y1="1391.4" x2="1258.5" y2="1391.4" stroke="#000" stroke-width="2" stroke-linecap="butt"/>
<rect x="1236.0" y="1406.4" width="28.9" height="150.3" fill="url(#chk47)" stroke="#000" stroke-width="2"/>
<line x1="1296.3" y1="1355.9" x2="1296.3" y2="1368.5" stroke="#000" stroke-width="2" stroke-linecap="butt"/>
<line x1="1288.3" y1="1355.9" x2="1304.3" y2="1355.9" stroke="#000" stroke-width="2" stroke-linecap="butt"/>
<rect x="1282.3" y="1368.5" width="28.0" height="188.2" fill="url(#chk47)" stroke="#000" stroke-width="2"/>
<line x1="1341.5" y1="1334.1" x2="1341.5" y2="1377.9" stroke="#000" stroke-width="2" stroke-linecap="butt"/>
<line x1="1333.5" y1="1334.1" x2="1349.5" y2="1334.1" stroke="#000" stroke-width="2" stroke-linecap="butt"/>
<rect x="1327.5" y="1377.9" width="28.0" height="178.8" fill="url(#chk47)" stroke="#000" stroke-width="2"/>
<line x1="1386.6" y1="1381.7" x2="1386.6" y2="1396.7" stroke="#000" stroke-width="2" stroke-linecap="butt"/>
<line x1="1378.6" y1="1381.7" x2="1394.6" y2="1381.7" stroke="#000" stroke-width="2" stroke-linecap="butt"/>
<rect x="1372.7" y="1396.7" width="27.7" height="160.0" fill="url(#chk47)" stroke="#000" stroke-width="2"/>
<line x1="1432.2" y1="1343.8" x2="1432.2" y2="1358.2" stroke="#000" stroke-width="2" stroke-linecap="butt"/>
<line x1="1424.2" y1="1343.8" x2="1440.2" y2="1343.8" stroke="#000" stroke-width="2" stroke-linecap="butt"/>
<rect x="1416.6" y="1358.2" width="31.1" height="198.5" fill="#000" stroke="#000" stroke-width="2"/>
<line x1="1477.2" y1="1343.8" x2="1477.2" y2="1366.0" stroke="#000" stroke-width="2" stroke-linecap="butt"/>
<line x1="1469.2" y1="1343.8" x2="1485.2" y2="1343.8" stroke="#000" stroke-width="2" stroke-linecap="butt"/>
<rect x="1462.0" y="1366.0" width="30.3" height="190.7" fill="#000" stroke="#000" stroke-width="2"/>
<rect x="1507.1" y="1353.4" width="30.2" height="203.3" fill="#000" stroke="#000" stroke-width="2"/>
<line x1="1567.3" y1="1341.4" x2="1567.3" y2="1349.6" stroke="#000" stroke-width="2" stroke-linecap="butt"/>
<line x1="1559.3" y1="1341.4" x2="1575.3" y2="1341.4" stroke="#000" stroke-width="2" stroke-linecap="butt"/>
<rect x="1552.3" y="1349.6" width="30.1" height="207.1" fill="#000" stroke="#000" stroke-width="2"/>
<line x1="1612.2" y1="1332.2" x2="1612.2" y2="1363.6" stroke="#000" stroke-width="2" stroke-linecap="butt"/>
<line x1="1604.2" y1="1332.2" x2="1620.2" y2="1332.2" stroke="#000" stroke-width="2" stroke-linecap="butt"/>
<rect x="1597.2" y="1363.6" width="29.9" height="193.1" fill="#000" stroke="#000" stroke-width="2"/>
<line x1="976.0" y1="1251.6" x2="1105.2" y2="1251.6" stroke="#000" stroke-width="2" stroke-linecap="butt"/>
<text x="1010.6" y="1245.1" font-size="19" text-anchor="middle">*</text>
<line x1="973.6" y1="1284.9" x2="1023.1" y2="1284.9" stroke="#000" stroke-width="2" stroke-linecap="butt"/>
<text x="998.2" y="1280.8" font-size="19" text-anchor="middle">*</text>
<line x1="1206.1" y1="1282.5" x2="1380.6" y2="1282.5" stroke="#000" stroke-width="2" stroke-linecap="butt"/>
<text x="1291.0" y="1278.2" font-size="19" text-anchor="middle">**</text>
<line x1="1203.0" y1="1314.8" x2="1245.2" y2="1314.8" stroke="#000" stroke-width="2" stroke-linecap="butt"/>
<text x="1222.3" y="1316.3" font-size="19" text-anchor="middle">**</text>
<text x="984.6" y="1587.5" font-size="19.5" text-anchor="end" transform="rotate(-45 984.6 1587.5)" textLength="43.8" lengthAdjust="spacing">CTR</text>
<text x="1031.2" y="1588.5" font-size="19.5" text-anchor="end" transform="rotate(-45 1031.2 1588.5)" textLength="164.0" lengthAdjust="spacing">Soot-E 100pg/ml</text>
<text x="1075.1" y="1588.6" font-size="19.5" text-anchor="end" transform="rotate(-45 1075.1 1588.6)" textLength="215.8" lengthAdjust="spacing">Soot-E/DMF 100pg/ml</text>
<text x="1120.5" y="1588.4" font-size="19.5" text-anchor="end" transform="rotate(-45 1120.5 1588.4)" textLength="164.4" lengthAdjust="spacing">NOC-E 100pg/ml</text>
<text x="1165.6" y="1588.2" font-size="19.5" text-anchor="end" transform="rotate(-45 1165.6 1588.2)" textLength="184.7" lengthAdjust="spacing">NOC-ED 100 pg/ml</text>
<text x="1211.5" y="1587.5" font-size="19.5" text-anchor="end" transform="rotate(-45 1211.5 1587.5)" textLength="43.8" lengthAdjust="spacing">CTR</text>
<text x="1258.0" y="1588.5" font-size="19.5" text-anchor="end" transform="rotate(-45 1258.0 1588.5)" textLength="164.0" lengthAdjust="spacing">Soot-E 100pg/ml</text>
<text x="1302.0" y="1588.6" font-size="19.5" text-anchor="end" transform="rotate(-45 1302.0 1588.6)" textLength="215.8" lengthAdjust="spacing">Soot-E/DMF 100pg/ml</text>
<text x="1347.3" y="1588.4" font-size="19.5" text-anchor="end" transform="rotate(-45 1347.3 1588.4)" textLength="164.4" lengthAdjust="spacing">NOC-E 100pg/ml</text>
<text x="1392.5" y="1588.2" font-size="19.5" text-anchor="end" transform="rotate(-45 1392.5 1588.2)" textLength="184.7" lengthAdjust="spacing">NOC-ED 100 pg/ml</text>
<text x="1438.3" y="1587.5" font-size="19.5" text-anchor="end" transform="rotate(-45 1438.3 1587.5)" textLength="43.8" lengthAdjust="spacing">CTR</text>
<text x="1484.9" y="1588.5" font-size="19.5" text-anchor="end" transform="rotate(-45 1484.9 1588.5)" textLength="164.0" lengthAdjust="spacing">Soot-E 100pg/ml</text>
<text x="1528.8" y="1588.6" font-size="19.5" text-anchor="end" transform="rotate(-45 1528.8 1588.6)" textLength="215.8" lengthAdjust="spacing">Soot-E/DMF 100pg/ml</text>
<text x="1574.2" y="1588.4" font-size="19.5" text-anchor="end" transform="rotate(-45 1574.2 1588.4)" textLength="164.4" lengthAdjust="spacing">NOC-E 100pg/ml</text>
<text x="1619.3" y="1588.2" font-size="19.5" text-anchor="end" transform="rotate(-45 1619.3 1588.2)" textLength="184.7" lengthAdjust="spacing">NOC-ED 100 pg/ml</text>
</svg>
</body>
</html>
